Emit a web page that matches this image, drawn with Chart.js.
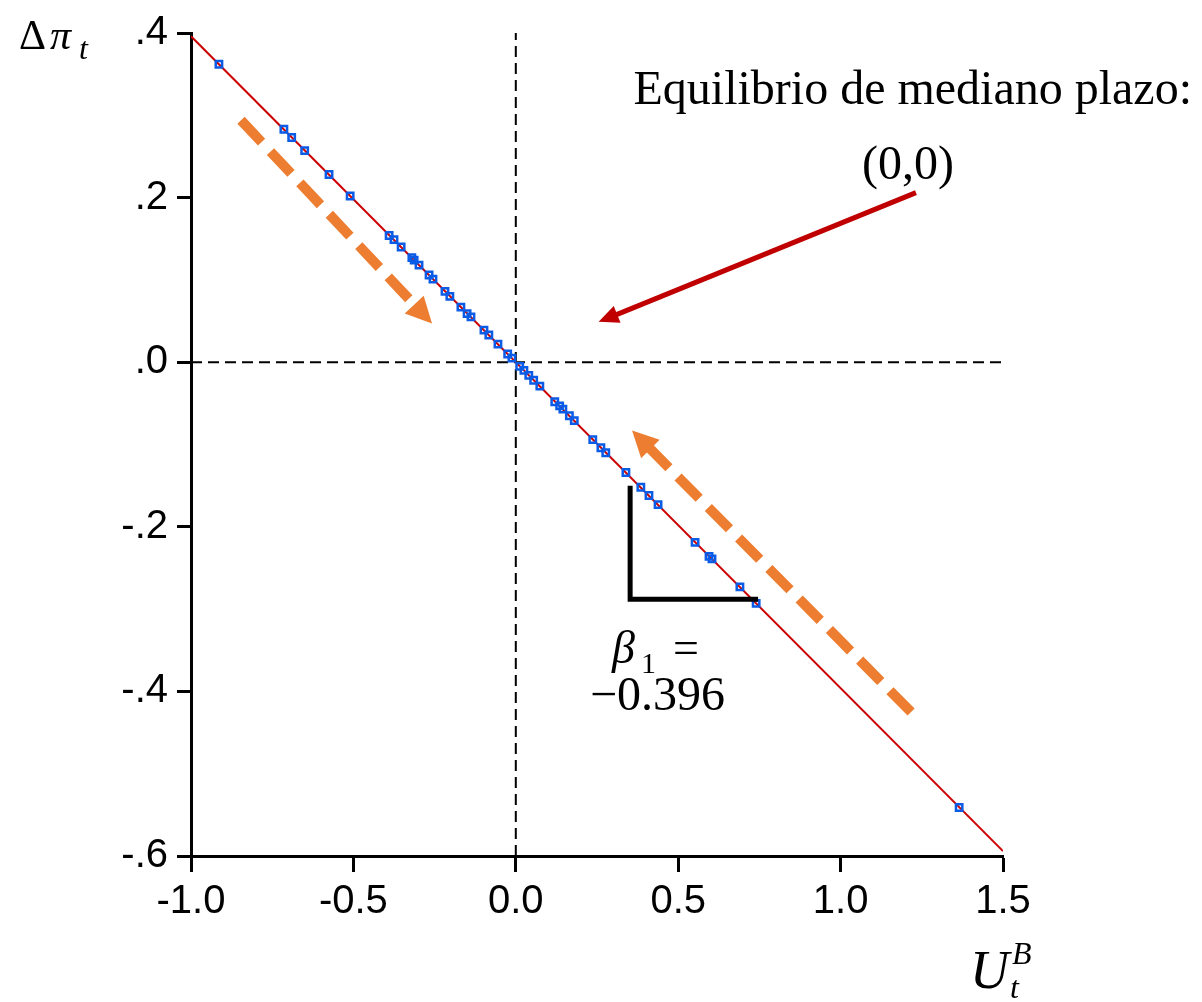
<!DOCTYPE html>
<html>
<head>
<meta charset="utf-8">
<script src="https://cdn.jsdelivr.net/npm/chart.js@4.4.1/dist/chart.umd.min.js"></script>
<style>
    html, body { margin: 0; padding: 0; background: #fff; }
    #wrap { width: 1202px; height: 1002px; }
</style>
</head>
<body>
<div id="wrap"><canvas id="myChart" width="1202" height="1002"></canvas></div>
<script>
// Fitted values (U_t^B, delta pi_t)
const u_values = [-0.914, -0.714, -0.69, -0.65, -0.575, -0.51, -0.39, -0.375, -0.353, -0.32,
    -0.313, -0.298, -0.267, -0.255, -0.218, -0.203, -0.169, -0.15, -0.138, -0.098,
    -0.083, -0.055, -0.025, -0.012, 0.012, 0.025, 0.04, 0.055, 0.074, 0.12,
    0.135, 0.145, 0.165, 0.18, 0.237, 0.262, 0.277, 0.339, 0.385, 0.41,
    0.438, 0.552, 0.595, 0.604, 0.69, 0.74, 1.365];
const dpi_values = [0.362, 0.283, 0.273, 0.257, 0.228, 0.202, 0.154, 0.149, 0.140, 0.127,
    0.124, 0.118, 0.106, 0.101, 0.086, 0.080, 0.067, 0.059, 0.055, 0.039,
    0.033, 0.022, 0.010, 0.005, -0.005, -0.010, -0.016, -0.022, -0.029, -0.048,
    -0.053, -0.057, -0.065, -0.071, -0.094, -0.104, -0.110, -0.134, -0.152, -0.162,
    -0.173, -0.219, -0.236, -0.239, -0.273, -0.293, -0.541];

// Regression line end points
const line_u = [-1.0, 1.5];
const line_dpi = [0.396, -0.594];

const x_ticks = [-1.0, -0.5, 0.0, 0.5, 1.0, 1.5];
const y_ticks = [-0.6, -0.4, -0.2, 0.0, 0.2, 0.4];

const points = u_values.map((u, i) => ({x: u, y: dpi_values[i]}));
const fit_line = line_u.map((u, i) => ({x: u, y: line_dpi[i]}));

// Annotations in data units
const orange_arrows = [
    {from: [-0.846, 0.294], to: [-0.258, 0.047]},
    {from: [1.217, -0.425], to: [0.358, -0.083]}
];
const red_arrow = {from: [1.232, 0.206], to: [0.255, 0.049]};
const slope_triangle = [[0.352, -0.150], [0.352, -0.288], [0.746, -0.288]];

function drawArrow(ctx, x1, y1, x2, y2, color, width, headLen, headWidth, dash) {
    const ang = Math.atan2(y2 - y1, x2 - x1);
    const bx = x2 - Math.cos(ang) * headLen;
    const by = y2 - Math.sin(ang) * headLen;
    ctx.save();
    ctx.strokeStyle = color;
    ctx.fillStyle = color;
    ctx.lineWidth = width;
    ctx.setLineDash(dash || []);
    ctx.lineCap = "butt";
    ctx.beginPath();
    ctx.moveTo(x1, y1);
    ctx.lineTo(bx + Math.cos(ang) * 2, by + Math.sin(ang) * 2);
    ctx.stroke();
    ctx.setLineDash([]);
    ctx.beginPath();
    ctx.moveTo(x2, y2);
    ctx.lineTo(bx + Math.sin(ang) * headWidth / 2, by - Math.cos(ang) * headWidth / 2);
    ctx.lineTo(bx - Math.sin(ang) * headWidth / 2, by + Math.cos(ang) * headWidth / 2);
    ctx.closePath();
    ctx.fill();
    ctx.restore();
}

const annotations = {
    id: "annotations",
    afterDatasetsDraw(chart) {
        const ctx = chart.ctx;
        const xs = chart.scales.x;
        const ys = chart.scales.y;
        const px = (v) => xs.getPixelForValue(v);
        const py = (v) => ys.getPixelForValue(v);

        orange_arrows.forEach((a) => {
            drawArrow(ctx, px(a.from[0]), py(a.from[1]), px(a.to[0]), py(a.to[1]),
                "#ed7d31", 10, 26, 26, [30, 13]);
        });
        drawArrow(ctx, px(red_arrow.from[0]), py(red_arrow.from[1]),
            px(red_arrow.to[0]), py(red_arrow.to[1]), "#c00000", 5, 20, 18);

        // slope triangle
        ctx.save();
        ctx.strokeStyle = "#000";
        ctx.lineWidth = 5;
        ctx.lineJoin = "miter";
        ctx.beginPath();
        slope_triangle.forEach((p, i) => {
            if (i === 0) ctx.moveTo(px(p[0]), py(p[1]));
            else ctx.lineTo(px(p[0]), py(p[1]));
        });
        ctx.stroke();
        ctx.restore();

        // texts
        ctx.save();
        ctx.fillStyle = "#000";
        ctx.textBaseline = "alphabetic";
        ctx.textAlign = "right";
        ctx.font = "48px 'Liberation Serif', 'Times New Roman', serif";
        ctx.fillText("Equilibrio de mediano plazo:", 1192, 104);
        ctx.textAlign = "center";
        ctx.fillText("(0,0)", 908, 179);

        ctx.textAlign = "left";
        ctx.font = "italic 46px 'Liberation Serif', serif";
        ctx.fillText("\u03b2", 612, 663);
        ctx.font = "30px 'Liberation Serif', serif";
        ctx.fillText("1", 641, 673);
        ctx.font = "46px 'Liberation Serif', serif";
        ctx.fillText("=", 673, 663);
        ctx.font = "48px 'Liberation Serif', serif";
        ctx.fillText("\u22120.396", 590, 710);

        // y axis title
        ctx.font = "42px 'Liberation Serif', serif";
        ctx.fillText("\u0394", 19, 49);
        ctx.font = "italic 42px 'Liberation Serif', serif";
        ctx.fillText("\u03c0", 50, 49);
        ctx.font = "italic 32px 'Liberation Serif', serif";
        ctx.fillText("t", 79, 59);

        // x axis title
        ctx.font = "italic 54px 'Liberation Serif', serif";
        ctx.fillText("U", 970, 988);
        ctx.font = "italic 32px 'Liberation Serif', serif";
        ctx.fillText("B", 1012, 964);
        ctx.fillText("t", 1010, 998);
        ctx.restore();
    }
};

const tickFont = {family: "'Liberation Sans', Arial, sans-serif", size: 40};

new Chart("myChart", {
    type: "scatter",
    data: {
        datasets: [
            {
                label: "fit",
                data: fit_line,
                showLine: true,
                borderColor: "#cc0000",
                borderWidth: 2,
                pointRadius: 0,
                order: 2
            },
            {
                label: "vertical",
                data: [{x: 0, y: -0.6}, {x: 0, y: 0.4}],
                showLine: true,
                borderColor: "#000",
                borderWidth: 2,
                borderDash: [11, 6],
                pointRadius: 0,
                order: 3
            },
            {
                label: "horizontal",
                data: [{x: -1.0, y: 0}, {x: 1.5, y: 0}],
                showLine: true,
                borderColor: "#000",
                borderWidth: 2,
                borderDash: [11, 6],
                pointRadius: 0,
                order: 3
            },
            {
                label: "points",
                data: points,
                pointStyle: "rect",
                pointRadius: 4.5,
                borderWidth: 2.5,
                borderColor: "#0a5ce6",
                backgroundColor: "rgba(0,0,0,0)",
                order: 1
            }
        ]
    },
    options: {
        responsive: false,
        animation: false,
        events: [],
        layout: {padding: {left: 0, right: 199, top: 33, bottom: 0}},
        plugins: {
            legend: {display: false},
            tooltip: {enabled: false}
        },
        scales: {
            x: {
                type: "linear",
                min: -1.0,
                max: 1.5,
                afterBuildTicks: (scale) => {
                    scale.ticks = x_ticks.map((v) => ({value: v}));
                },
                afterFit: (scale) => { scale.height = 146; },
                ticks: {
                    color: "#000",
                    font: tickFont,
                    padding: 6,
                    maxRotation: 0,
                    callback: (v) => v.toFixed(1)
                },
                grid: {
                    display: true,
                    drawOnChartArea: false,
                    drawTicks: true,
                    tickLength: 16,
                    tickWidth: 3,
                    tickColor: "#000"
                },
                border: {display: true, color: "#000", width: 3}
            },
            y: {
                type: "linear",
                min: -0.6,
                max: 0.4,
                afterBuildTicks: (scale) => {
                    scale.ticks = y_ticks.map((v) => ({value: v}));
                },
                afterFit: (scale) => { scale.width = 191; },
                ticks: {
                    color: "#000",
                    font: tickFont,
                    padding: 9,
                    callback: (v) => v.toFixed(1).replace("0.", ".")
                },
                grid: {
                    display: true,
                    drawOnChartArea: false,
                    drawTicks: true,
                    tickLength: 14,
                    tickWidth: 3,
                    tickColor: "#000"
                },
                border: {display: true, color: "#000", width: 3}
            }
        }
    },
    plugins: [annotations]
});
</script>
</body>
</html>
